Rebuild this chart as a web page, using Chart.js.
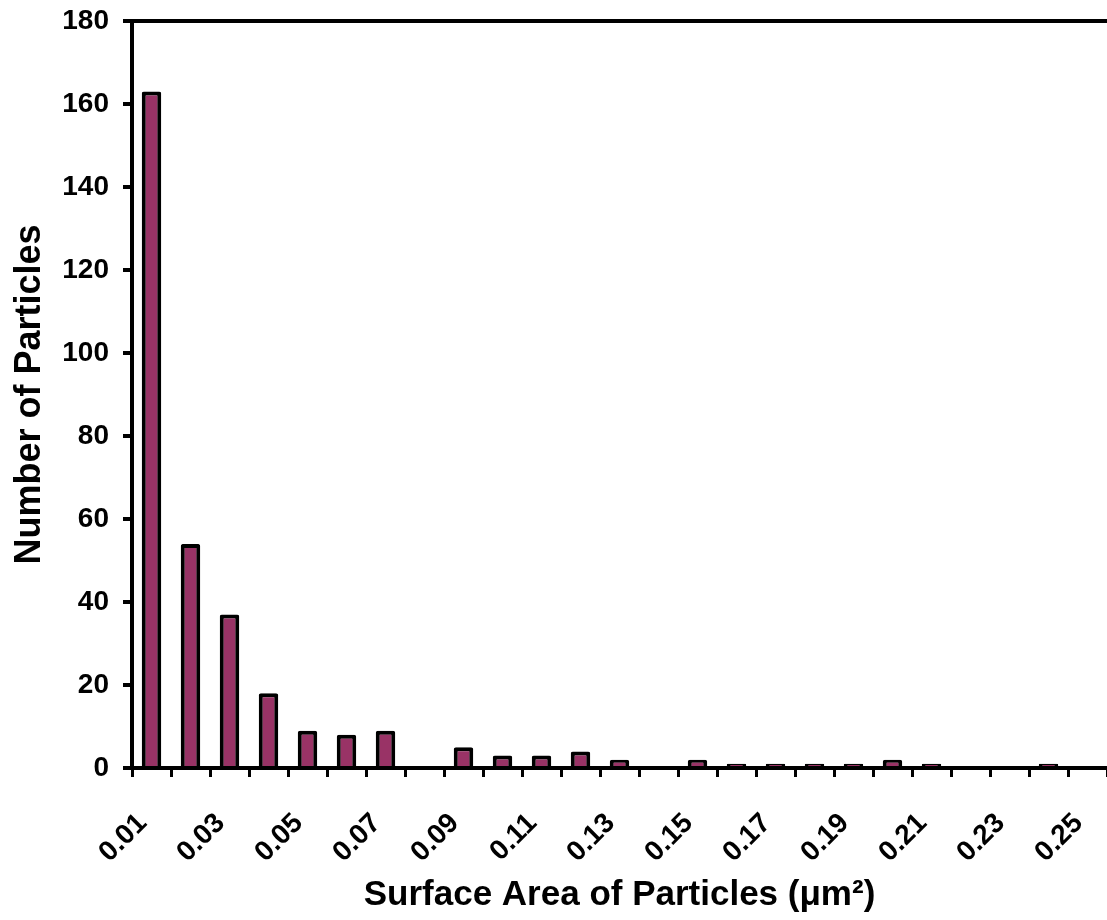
<!DOCTYPE html>
<html>
<head>
<meta charset="utf-8">
<script src="https://cdn.jsdelivr.net/npm/chart.js@4"></script>
<style>
  html, body { margin: 0; padding: 0; background: #fff; }
  #wrap { width: 1107px; height: 920px; position: relative; }
</style>
</head>
<body>
<div id="wrap"><canvas id="areaChart"></canvas></div>
<script>
const categories = ['0.01', '0.02', '0.03', '0.04', '0.05', '0.06', '0.07', '0.08', '0.09', '0.10',
    '0.11', '0.12', '0.13', '0.14', '0.15', '0.16', '0.17', '0.18', '0.19', '0.20',
    '0.21', '0.22', '0.23', '0.24', '0.25'];
const particleCounts = [163, 54, 37, 18, 9, 8, 9, 0, 5, 3,
    3, 4, 2, 0, 2, 1, 1, 1, 1, 2,
    1, 0, 0, 1, 0];
const yTicks = [0, 20, 40, 60, 80, 100, 120, 140, 160, 180];

const font = 'Liberation Sans, Arial, sans-serif';

// line along the top of the plot area
const topBorder = {
    id: 'topBorder',
    afterDraw(chart) {
        const { ctx, chartArea } = chart;
        ctx.save();
        ctx.strokeStyle = '#000';
        ctx.lineWidth = 4;
        ctx.beginPath();
        ctx.moveTo(chartArea.left - 2, chartArea.top);
        ctx.lineTo(chartArea.right, chartArea.top);
        ctx.stroke();
        ctx.restore();
    }
};

document.addEventListener('DOMContentLoaded', () => {
    const ctx = document.getElementById('areaChart').getContext('2d');
    new Chart(ctx, {
        type: 'bar',
        data: {
            labels: categories,
            datasets: [{
                data: particleCounts,
                backgroundColor: '#993366',
                borderColor: '#000',
                borderWidth: 4,
                borderRadius: 2,
                borderSkipped: 'bottom',
                barPercentage: 0.5,
                categoryPercentage: 1
            }]
        },
        options: {
            responsive: true,
            maintainAspectRatio: false,
            animation: false,
            layout: { padding: { top: 21, right: 0, left: 0, bottom: 0 } },
            plugins: {
                legend: { display: false },
                tooltip: { enabled: false }
            },
            scales: {
                x: {
                    afterFit: scale => {
                        scale.height = 152;
                        scale.paddingLeft = 0;
                        scale.paddingRight = 0;
                    },
                    grid: {
                        offset: true,
                        drawOnChartArea: false,
                        drawTicks: true,
                        tickLength: 9,
                        lineWidth: 3,
                        color: '#000'
                    },
                    border: { display: true, color: '#000', width: 4 },
                    ticks: {
                        autoSkip: false,
                        minRotation: 45,
                        maxRotation: 45,
                        padding: 30,
                        labelOffset: -9,
                        color: '#000',
                        font: { family: font, size: 28, weight: 'bold' },
                        callback: function (value, index) {
                            return index % 2 === 0 ? categories[index] : '';
                        }
                    },
                    title: {
                        display: true,
                        text: 'Surface Area of Particles (\u03bcm\u00b2)',
                        color: '#000',
                        font: { family: font, size: 35, weight: 'bold' },
                        padding: { top: 0, bottom: 4 }
                    }
                },
                y: {
                    min: 0,
                    max: 180,
                    afterFit: scale => {
                        scale.width = 132;
                        scale.paddingTop = 0;
                        scale.paddingBottom = 0;
                    },
                    afterBuildTicks: scale => {
                        scale.ticks = yTicks.map(v => ({ value: v }));
                    },
                    grid: {
                        drawOnChartArea: false,
                        drawTicks: true,
                        tickLength: 9,
                        lineWidth: 4,
                        color: '#000'
                    },
                    border: { display: true, color: '#000', width: 4 },
                    ticks: {
                        padding: 14,
                        color: '#000',
                        font: { family: font, size: 28, weight: 'bold' }
                    },
                    title: {
                        display: true,
                        text: 'Number of Particles',
                        color: '#000',
                        font: { family: font, size: 36, weight: 'bold' },
                        padding: { top: 8, bottom: 0 }
                    }
                }
            }
        },
        plugins: [topBorder]
    });
});
</script>
</body>
</html>
